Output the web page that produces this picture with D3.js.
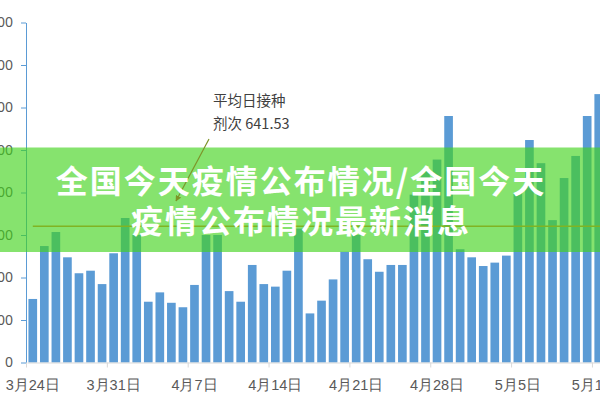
<!DOCTYPE html>
<html>
<head>
<meta charset="utf-8">
<script src="https://cdn.jsdelivr.net/npm/d3@7"></script>
<style>
  html, body { margin: 0; padding: 0; background: #fff; overflow: hidden; }
  svg { display: block; font-family: "Noto Sans CJK SC", "Noto Sans", sans-serif; }
</style>
</head>
<body>
<div id="chart"></div>
<script>
// Daily doses, 3月24日 .. 5月12日 (one value per day)
const days = d3.timeDay.range(new Date(2021, 2, 24), new Date(2021, 4, 13));
const doses = [
  299, 548, 614, 495, 420, 432, 369,
  514, 680, 600, 286, 330, 281, 260,
  365, 600, 600, 336, 286, 459, 369,
  357, 432, 630, 231, 291, 391, 521,
  600, 486, 427, 459, 459, 790, 900,
  955, 1160, 533, 495, 454, 470, 503,
  800, 1047, 938, 670, 868, 972, 1160,
  1263
];
const weekLabels = ['3月24日', '3月31日', '4月7日', '4月14日', '4月21日', '4月28日', '5月5日', '5月12日'];
const yTicks = [0, 200, 400, 600, 800, 1000, 1200, 1400, 1600];
const avgDose = 641.53;
const noteLines = ['平均日接种', '剂次 641.53'];
const titleLines = ['全国今天疫情公布情况/全国今天', '疫情公布情况最新消息'];

const width = 600, height = 400;

const svg = d3.select('#chart').append('svg')
  .attr('width', width)
  .attr('height', height);

// Scales
const x = d3.scaleBand()
  .domain(days)
  .range([27, 604.5])
  .paddingInner(0.25)
  .paddingOuter(0.125);

const y = d3.scaleLinear()
  .domain([0, 1600])
  .range([362.5, 22.5]);

// Bars
svg.selectAll('.bar')
  .data(days)
  .enter()
  .append('rect')
  .attr('class', 'bar')
  .attr('x', d => x(d))
  .attr('y', (d, i) => y(doses[i]))
  .attr('width', x.bandwidth())
  .attr('height', (d, i) => y(0) - y(doses[i]))
  .attr('fill', '#5b9bd5');

// Average line
svg.append('line')
  .attr('x1', x(days[0]) + x.bandwidth() / 2)
  .attr('x2', width + 10)
  .attr('y1', y(avgDose))
  .attr('y2', y(avgDose))
  .attr('stroke', '#ed7d31')
  .attr('stroke-width', 1.5);

// Y axis
const yAxis = svg.append('g')
  .attr('transform', 'translate(26,0)')
  .call(d3.axisLeft(y).tickValues(yTicks).tickSize(5).tickSizeOuter(0).tickPadding(8));
yAxis.select('.domain').attr('stroke', '#5b9bd5');
yAxis.selectAll('.tick line').attr('stroke', '#5b9bd5');
yAxis.selectAll('text')
  .attr('fill', '#595959')
  .style('font-size', '14px')
  .style('font-family', '"Noto Sans", sans-serif');

// X axis - ticks on week boundaries, labels centred on the day
const weekDays = days.filter((d, i) => i % 7 === 0);
const xAxis = svg.append('g')
  .attr('transform', `translate(0,${y(0)})`)
  .call(d3.axisBottom(x).tickValues(weekDays).tickFormat((d, i) => weekLabels[i]).tickSize(5).tickSizeOuter(0));
xAxis.select('.domain').attr('stroke', '#d9d9d9');
xAxis.selectAll('.tick line')
  .attr('stroke', '#d9d9d9')
  .attr('transform', `translate(${-x.step() / 2 - 0.5},0)`);
xAxis.selectAll('text')
  .attr('y', 22.5)
  .attr('dy', '0.35em')
  .attr('fill', '#595959')
  .style('font-size', '14.5px');

// Callout
svg.selectAll('.note')
  .data(noteLines)
  .enter()
  .append('text')
  .attr('class', 'note')
  .attr('x', 213)
  .attr('y', (d, i) => 106 + i * 23)
  .attr('fill', '#404040')
  .style('font-size', '14.5px')
  .text(d => d);

svg.append('defs').append('marker')
  .attr('id', 'arrow')
  .attr('viewBox', '0 0 10 10')
  .attr('refX', 9)
  .attr('refY', 5)
  .attr('markerWidth', 5)
  .attr('markerHeight', 5)
  .attr('orient', 'auto')
  .append('path')
  .attr('d', 'M0,0L10,5L0,10Z')
  .attr('fill', '#7d9428');

// Green banner overlay
svg.append('rect')
  .attr('x', 0)
  .attr('y', 147.5)
  .attr('width', width)
  .attr('height', 104.5)
  .attr('fill', '#42d31c')
  .attr('opacity', 0.64);

svg.append('line')
  .attr('x1', 209)
  .attr('y1', 139)
  .attr('x2', 176)
  .attr('y2', 201)
  .attr('stroke', '#7d9428')
  .attr('stroke-width', 1.2)
  .attr('marker-end', 'url(#arrow)');

svg.selectAll('.title')
  .data(titleLines)
  .enter()
  .append('text')
  .attr('class', 'title')
  .attr('x', 301)
  .attr('y', (d, i) => 181.5 + i * 39.5)
  .attr('dy', '0.36em')
  .attr('text-anchor', 'middle')
  .attr('fill', '#fff')
  .style('font-size', '32px')
  .style('font-weight', 'bold')
  .style('letter-spacing', '2px')
  .text(d => d);
</script>
</body>
</html>
